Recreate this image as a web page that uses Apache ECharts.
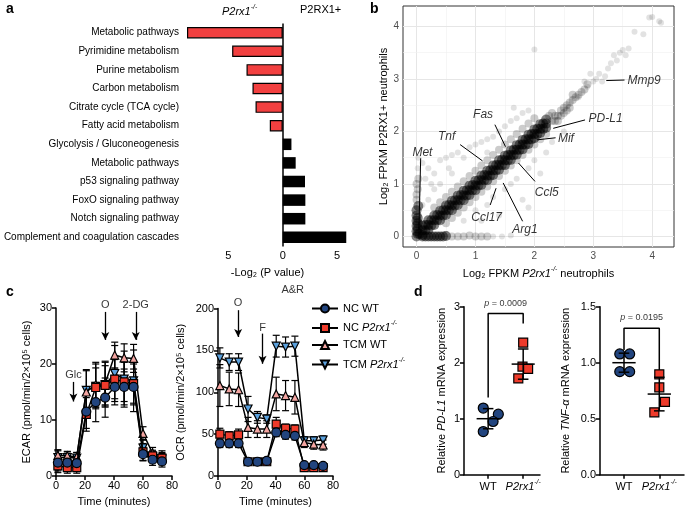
<!DOCTYPE html>
<html><head><meta charset="utf-8">
<script src="https://cdn.jsdelivr.net/npm/echarts@6/dist/echarts.min.js"></script>
<style>html,body{margin:0;padding:0;background:#fff}#c{width:685px;height:511px}</style>
</head><body><div id="c"></div>
<script>
// ---------- Panel a ----------
const pathwayNames = ['Metabolic pathways','Pyrimidine metabolism','Purine metabolism','Carbon metabolism','Citrate cycle (TCA cycle)','Fatty acid metabolism','Glycolysis / Gluconeogenesis','Metabolic pathways','p53 signaling pathway','FoxO signaling pathway','Notch signaling pathway','Complement and coagulation cascades'];
const pathwayLogP = [-8.8, -4.65, -3.33, -2.78, -2.5, -1.19, 0.8, 1.19, 2.05, 2.08, 2.08, 5.84];
const aTicks = [-5, 0, 5];

// ---------- Panel b ----------
const densePts = [
 [0,0],[0,0.1],[0,0.2],[0,0.3],[0,0.4],[0,0.5],[0.03,0.58],[0.1,0],[0.2,0],[0.3,0],[0.4,0],[0.5,0.01],[0.05,0.05],[0.02,0.05],[0.02,0.15],[0.02,0.25],[0.02,0.35],[0.15,0],[0.25,0],[0.35,0],[0.45,0],
 [0.1,0.03],[0.1,0.12],[0.1,0.21],[0.2,0.13],[0.2,0.22],[0.2,0.31],[0.3,0.22],[0.3,0.31],[0.3,0.4],
 [0.4,0.31],[0.4,0.4],[0.4,0.49],[0.5,0.41],[0.5,0.5],[0.5,0.59],[0.6,0.5],[0.6,0.59],[0.6,0.68],
 [0.7,0.6],[0.7,0.69],[0.7,0.78],[0.8,0.69],[0.8,0.78],[0.8,0.87],[0.9,0.79],[0.9,0.88],[0.9,0.97],
 [1.0,0.88],[1.0,0.97],[1.0,1.06],[1.1,0.98],[1.1,1.07],[1.1,1.16],[1.2,1.07],[1.2,1.16],[1.2,1.25],
 [1.3,1.17],[1.3,1.26],[1.3,1.35],[1.4,1.27],[1.4,1.36],[1.4,1.45],[1.5,1.36],[1.5,1.45],[1.5,1.54],
 [1.6,1.46],[1.6,1.55],[1.6,1.64],[1.7,1.56],[1.7,1.65],[1.7,1.74],[1.8,1.66],[1.8,1.75],[1.8,1.84],
 [1.9,1.76],[1.9,1.85],[1.9,1.94],[2.0,1.87],[2.0,1.95],[2.0,2.04],[2.1,1.97],[2.1,2.05],[2.1,2.14],
 [2.2,2.07],[2.2,2.15],[2.2,2.23],
 [0.15,0.12],[0.15,0.22],[0.25,0.21],[0.25,0.31],[0.35,0.31],[0.35,0.41],[0.45,0.4],[0.45,0.5],[0.55,0.5],[0.55,0.6],
 [0.65,0.59],[0.65,0.69],[0.75,0.69],[0.75,0.79],[0.85,0.78],[0.85,0.88],[0.95,0.88],[0.95,0.98],[1.05,0.97],[1.05,1.07],
 [1.15,1.07],[1.15,1.17],[1.25,1.16],[1.25,1.26],[1.35,1.26],[1.35,1.36],[1.45,1.36],[1.45,1.46],[1.55,1.45],[1.55,1.55],
 [1.65,1.55],[1.65,1.65],[1.75,1.65],[1.75,1.75],[1.85,1.75],[1.85,1.85],[1.95,1.85],[1.95,1.95],[2.05,1.95],[2.05,2.05],[2.15,2.05],[2.15,2.15]
];
const mediumPts = [
 [2.3,2.2],[2.35,2.3],[2.4,2.3],[2.45,2.4],[2.5,2.45],[2.55,2.5],[2.6,2.55],[2.65,2.6],[2.7,2.65],[2.3,2.35],[2.4,2.2],[2.5,2.35],[2.6,2.45],[2.75,2.7],[2.8,2.75],[2.25,2.3],[2.35,2.2],[2.45,2.3],[2.55,2.4],[2.65,2.7],[2.85,2.8],[2.9,2.9],
 [0.3,0.55],[0.5,0.75],[0.7,0.95],[0.9,1.15],[1.1,1.35],[1.3,1.55],[1.5,1.75],[1.7,1.95],[1.9,2.15],
 [0.4,0.65],[0.6,0.85],[0.8,1.05],[1.0,1.25],[1.2,1.45],[1.4,1.65],[1.6,1.85],[1.8,2.05],[2.0,2.25],
 [0.5,0.25],[0.7,0.45],[0.9,0.65],[1.1,0.85],[1.3,1.05],[1.5,1.25],[1.7,1.45],[1.9,1.65],[2.1,1.85],
 [0.6,0.35],[0.8,0.55],[1.0,0.75],[1.2,0.95],[1.4,1.15],[1.6,1.35],[1.8,1.55],[2.0,1.75],[2.2,1.95],
 [0,0.7],[0,0.8],[0.02,0.9],[0,1.0],[0.03,1.1],[0.6,0],[0.7,0],[0.8,0],[0.9,0.02],[1.0,0],[1.1,0],[1.2,0]
];
const sparsePts = [
 [2.0,3.56],[4.0,4.18],[3.95,4.17],[4.15,4.07],[4.12,4.1],[3.7,3.9],[3.85,3.85],[3.5,3.55],[3.6,3.58],[3.45,3.5],[3.3,3.3],[3.35,3.45],[3.25,3.2],[3.1,3.1],[3.0,2.95],[2.9,2.85],[3.05,3.0],[2.85,2.95],[3.2,3.05],[3.15,2.95],[2.95,3.1],[2.75,2.65],[3.4,3.35],[3.55,3.45],
 [0.1,1.4],[0.2,1.3],[0.3,1.2],[0.15,1.1],[0.4,1.45],[0.5,1.5],[0.6,1.55],[0.7,1.6],[0.55,1.3],[0.8,1.5],[0.9,1.7],[1.0,1.75],[1.1,1.8],[1.2,1.85],[1.3,1.9],[1.4,2.0],[1.5,2.1],[1.6,2.2],[1.7,2.25],[1.8,2.35],[1.9,2.4],[0.3,0.9],[0.4,1.0],[0.2,0.7],[0.1,0.6],[1.65,2.45],[0.25,1.0],[0.6,1.2],[1.2,1.6],
 [0.5,0.05],[0.8,0.3],[1.0,0.5],[1.2,0.6],[1.3,0.75],[1.5,0.9],[1.6,1.0],[1.7,1.1],[1.9,1.3],[2.0,1.45],[2.2,1.6],[1.9,0.55],[1.8,0.7],[2.3,1.8],[2.5,2.0],[1.4,0.4],[1.1,0.3],[2.1,1.2],[1.3,0],[1.45,0],[1.6,0.02],[0.02,1.3],[0.03,1.5]
];
const bGridMajor = [0, 1, 2, 3, 4];
const bGridMinor = [0.5, 1.5, 2.5, 3.5];
const geneNames = ['Mmp9','PD-L1','Mif','Fas','Tnf','Met','Ccl5','Ccl17','Arg1'];
const geneLabelX = [3.58, 2.92, 2.4, 1.13, 0.51, 0.1, 2.21, 1.19, 1.84];
const geneLabelY = [2.97, 2.24, 1.87, 2.32, 1.9, 1.59, 0.84, 0.35, 0.13];
const geneLineFrom = [[3.22,2.97],[2.32,2.06],[2.04,1.84],[1.33,2.13],[0.74,1.75],[0.07,1.49],[1.73,1.40],[1.25,0.60],[1.47,1.02]];
const geneLineTo = [[3.53,2.98],[2.86,2.22],[2.36,1.88],[1.51,1.71],[1.12,1.44],[0.04,0.13],[2.01,1.05],[1.35,0.92],[1.80,0.29]];

// ---------- Panel c ----------
const times = [1.3, 7.8, 14.3, 20.9, 27.4, 33.9, 40.5, 47.0, 53.5, 60.0, 66.6, 73.1];
const ecarNcWt = [2.4, 2.4, 2.3, 11.5, 13.2, 14.0, 15.9, 15.9, 15.9, 3.9, 2.9, 2.6];
const ecarNcKo = [1.8, 1.5, 1.5, 11.0, 15.8, 16.2, 17.3, 16.8, 16.5, 4.3, 3.6, 3.2];
const ecarTcmWt = [3.7, 3.6, 3.4, 15.0, 16.3, 16.5, 21.6, 21.1, 21.0, 7.6, 4.1, 3.5];
const ecarTcmKo = [3.3, 3.3, 3.2, 15.3, 16.0, 16.3, 18.3, 17.3, 17.0, 5.0, 3.4, 3.0];
const ecarNcWtErr = [1.5, 1.2, 1.2, 3.0, 3.5, 3.5, 3.2, 3.2, 3.2, 1.2, 1.0, 1.0];
const ecarNcKoErr = [1.2, 1.0, 1.0, 3.0, 3.5, 3.5, 3.5, 3.5, 3.5, 1.5, 1.0, 1.0];
const ecarTcmWtErr = [1.0, 0.8, 0.8, 4.0, 4.0, 4.0, 2.3, 2.5, 2.5, 1.2, 1.0, 1.0];
const ecarTcmKoErr = [1.2, 1.0, 1.0, 3.5, 4.0, 4.0, 5.0, 5.0, 5.5, 1.5, 1.0, 1.0];
const ocrNcWt = [39, 39, 39, 17, 17, 18, 52, 49, 48, 13, 13, 12];
const ocrNcKo = [50, 48, 49, 17, 17, 17, 62, 57, 56, 10, 10, 10];
const ocrTcmWt = [108, 104, 103, 58, 56, 56, 98, 96, 94, 40, 38, 37];
const ocrTcmKo = [141, 136, 136, 80, 70, 68, 155, 154, 155, 42, 42, 43];
const ocrNcWtErr = [5, 5, 5, 3, 3, 3, 5, 5, 5, 2, 2, 2];
const ocrNcKoErr = [7, 5, 7, 3, 3, 3, 8, 5, 5, 2, 2, 2];
const ocrTcmWtErr = [25, 20, 20, 12, 10, 10, 20, 18, 20, 6, 6, 6];
const ocrTcmKoErr = [12, 10, 10, 15, 7, 5, 13, 12, 12, 5, 5, 5];
const ecarArrowNames = ['Glc', 'O', '2-DG'];
const ecarArrowX = [12, 34, 55];
const ecarArrowTop = [16.8, 29.3, 29.3];
const ecarArrowBottom = [13.3, 24.3, 24.3];
const ecarArrowText = [18.0, 30.6, 30.6];
const ocrArrowNames = ['O', 'F', 'A&R'];
const ocrArrowX = [14, 31, 52];
const ocrArrowTop = [198, 170, 210];
const ocrArrowBottom = [166, 134, 181];
const ocrArrowText = [207, 177, 222];

// ---------- Panel d ----------
const pdl1WtX = [0.86, 1.29, 1.14, 0.86];
const pdl1WtY = [1.19, 1.08, 0.95, 0.77];
const pdl1KoX = [2.0, 1.98, 2.14, 1.86];
const pdl1KoY = [2.36, 1.93, 1.89, 1.72];
const tnfWtX = [0.88, 1.16, 0.88, 1.16];
const tnfWtY = [1.078, 1.078, 0.92, 0.92];
const tnfKoX = [2.0, 2.0, 2.16, 1.86];
const tnfKoY = [0.896, 0.78, 0.65, 0.557];
const pdl1Stats = [[1, 1.0, 0.18], [2, 1.975, 0.27]];
const tnfStats = [[1, 1.0, 0.085], [2, 0.72, 0.15]];
const pdl1Bracket = [[1, 1.38], [1, 2.88], [2, 2.88], [2, 2.70]];
const tnfBracket = [[1, 1.113], [1, 1.307], [2, 1.307], [2, 0.935]];
const pdl1PText = 'p = 0.0009';
const tnfPText = 'p = 0.0195';

// ---------- styles ----------
const FONT = '"Liberation Sans", Arial, sans-serif';
const RED_A = '#f24040';
const NAVY = '#22457f', RED = '#ee3b2b', PINK = '#f3a5a1', LBLUE = '#5aa0dc';
const rich = (fs) => ({
  n: {fontSize: fs, lineHeight: fs + 5, color: '#000'},
  i: {fontSize: fs, lineHeight: fs + 5, fontStyle: 'italic', color: '#000'},
  s: {fontSize: fs * 0.62, lineHeight: fs * 0.75, verticalAlign: 'top', fontStyle: 'italic', color: '#000'}
});
const KO = '{i|P2rx1}{s|-/-}';

const blackAxis = {lineStyle: {color: '#000', width: 1.5}};
const blackTick = {length: 4, lineStyle: {color: '#000', width: 1.5}};
const blackLabel = {color: '#000', fontSize: 11, margin: 4};

function errSeries(xi, yi, xs, ys, es, z) {
  return {type: 'custom', xAxisIndex: xi, yAxisIndex: yi, z, silent: true, clip: false,
    data: xs.map((x, k) => [x, ys[k] - es[k], ys[k] + es[k]]),
    encode: {x: 0, y: [1, 2]},
    renderItem(p, api) {
      const x = api.value(0);
      const lo = api.coord([x, api.value(1)]), hi = api.coord([x, api.value(2)]);
      const w = 3.5, st = {stroke: '#000', lineWidth: 1.2};
      return {type: 'group', children: [
        {type: 'line', shape: {x1: lo[0], y1: lo[1], x2: hi[0], y2: hi[1]}, style: st},
        {type: 'line', shape: {x1: lo[0] - w, y1: lo[1], x2: lo[0] + w, y2: lo[1]}, style: st},
        {type: 'line', shape: {x1: hi[0] - w, y1: hi[1], x2: hi[0] + w, y2: hi[1]}, style: st}]};
    }};
}
function lineSeries(name, xi, yi, xs, ys, sym, color, z, size, rot) {
  return {type: 'line', name, xAxisIndex: xi, yAxisIndex: yi, z,
    data: xs.map((x, k) => [x, ys[k]]), symbol: sym, symbolSize: size, symbolRotate: rot || 0,
    lineStyle: {color: '#000', width: 1.5}, itemStyle: {color, borderColor: '#000', borderWidth: 1.2},
    showSymbol: true, animation: false};
}
function arrowSeries(xi, yi, names, xs, tops, bottoms, texts) {
  return {type: 'scatter', xAxisIndex: xi, yAxisIndex: yi, symbolSize: 0, clip: false, silent: true, z: 10,
    data: names.map((n, k) => ({name: n, value: [xs[k], texts[k]]})),
    label: {show: true, position: 'inside', formatter: '{b}', color: '#000', fontSize: 11},
    markLine: {silent: true, symbol: ['none', 'arrow'], symbolSize: [6, 8], animation: false,
      lineStyle: {color: '#000', width: 1.3, type: 'solid'}, label: {show: false},
      data: xs.map((x, k) => [{coord: [x, tops[k]]}, {coord: [x, bottoms[k]]}])}};
}
function statSeries(xi, yi, stats) {
  return {type: 'custom', xAxisIndex: xi, yAxisIndex: yi, z: 5, silent: true, clip: false,
    data: stats, encode: {x: 0, y: 1},
    renderItem(p, api) {
      const x = api.value(0), m = api.value(1), s = api.value(2);
      const c = api.coord([x, m]), hi = api.coord([x, m + s]), lo = api.coord([x, m - s]);
      const mw = api.coord([x + 0.33, m])[0] - c[0];
      const cw = api.coord([x + 0.15, m])[0] - c[0];
      const st = {stroke: '#000', lineWidth: 1.5};
      return {type: 'group', children: [
        {type: 'line', shape: {x1: c[0] - mw, y1: c[1], x2: c[0] + mw, y2: c[1]}, style: st},
        {type: 'line', shape: {x1: c[0], y1: lo[1], x2: c[0], y2: hi[1]}, style: st},
        {type: 'line', shape: {x1: c[0] - cw, y1: hi[1], x2: c[0] + cw, y2: hi[1]}, style: st},
        {type: 'line', shape: {x1: c[0] - cw, y1: lo[1], x2: c[0] + cw, y2: lo[1]}, style: st}]};
    }};
}
function dotSeries(xi, yi, xs, ys, sym, color, size) {
  return {type: 'scatter', xAxisIndex: xi, yAxisIndex: yi, z: 4, clip: false,
    data: xs.map((x, k) => [x, ys[k]]), symbol: sym, symbolSize: size,
    itemStyle: {color, borderColor: '#000', borderWidth: 1.2, opacity: 1}};
}

const chart = echarts.init(document.getElementById('c'), null, {renderer: 'canvas'});

const legendNames = ['NC WT', 'NC P2rx1', 'TCM WT', 'TCM P2rx1'];

const option = {
  animation: false,
  backgroundColor: '#fff',
  textStyle: {fontFamily: FONT},
  graphic: [
    {type: 'text', left: 6, top: 2, style: {text: 'a', font: 'bold 14px ' + FONT, fill: '#000'}},
    {type: 'text', left: 370, top: 2, style: {text: 'b', font: 'bold 14px ' + FONT, fill: '#000'}},
    {type: 'text', left: 6, top: 285, style: {text: 'c', font: 'bold 14px ' + FONT, fill: '#000'}},
    {type: 'text', left: 414, top: 285, style: {text: 'd', font: 'bold 14px ' + FONT, fill: '#000'}},
    {type: 'text', left: 222, top: 4, style: {text: KO, rich: rich(11), fill: '#000'}},
    {type: 'text', left: 300, top: 4, style: {text: 'P2RX1+', font: '11px ' + FONT, fill: '#000'}}
  ],
  legend: {
    data: legendNames, orient: 'vertical', left: 306, top: 298, itemGap: 6,
    itemWidth: 26, itemHeight: 10,
    formatter: (n) => n === 'NC P2rx1' ? '{n|NC }' + KO : n === 'TCM P2rx1' ? '{n|TCM }' + KO : '{n|' + n + '}',
    textStyle: {fontSize: 11, rich: rich(11)}
  },
  grid: [
    {left: 187, width: 161, top: 23.4, height: 223.2},
    {left: 403, width: 271, top: 6, height: 241, show: true, borderColor: '#333', borderWidth: 1, backgroundColor: '#fff'},
    {left: 56, width: 116, top: 308, height: 168},
    {left: 218, width: 115, top: 308.5, height: 167.5},
    {left: 464, width: 76, top: 306.7, height: 168},
    {left: 600, width: 84, top: 306.7, height: 168}
  ],
  xAxis: [
    {gridIndex: 0, type: 'value', min: -8.8, max: 6, splitLine: {show: false},
      axisLine: blackAxis, axisTick: Object.assign({customValues: aTicks}, blackTick),
      axisLabel: Object.assign({customValues: aTicks, formatter: v => Math.abs(v)}, blackLabel),
      name: '-Log₂ (P value)', nameLocation: 'middle', nameGap: 21, nameTextStyle: {fontSize: 11, color: '#000'}},
    {gridIndex: 1, type: 'value', min: -0.23, max: 4.37, splitLine: {show: false},
      axisLine: {show: false}, axisTick: {customValues: bGridMajor, length: 3, lineStyle: {color: '#333'}},
      axisLabel: {customValues: bGridMajor, color: '#4d4d4d', fontSize: 10, margin: 4},
      name: '{n|Log₂ FPKM }' + KO + '{n| neutrophils}', nameLocation: 'middle', nameGap: 19,
      nameTextStyle: {rich: rich(11)}},
    {gridIndex: 2, type: 'value', min: 0, max: 80, interval: 20, splitLine: {show: false},
      axisLine: blackAxis, axisTick: blackTick, axisLabel: blackLabel,
      name: 'Time (minutes)', nameLocation: 'middle', nameGap: 20, nameTextStyle: {fontSize: 11, color: '#000'}},
    {gridIndex: 3, type: 'value', min: 0, max: 80, interval: 20, splitLine: {show: false},
      axisLine: blackAxis, axisTick: blackTick, axisLabel: blackLabel,
      name: 'Time (minutes)', nameLocation: 'middle', nameGap: 20, nameTextStyle: {fontSize: 11, color: '#000'}},
    {gridIndex: 4, type: 'value', min: 0.31, max: 2.48, splitLine: {show: false},
      axisLine: blackAxis, axisTick: Object.assign({customValues: [1, 2]}, blackTick),
      axisLabel: Object.assign({customValues: [1, 2], formatter: v => v === 1 ? '{n|WT}' : KO, rich: rich(11)}, blackLabel)},
    {gridIndex: 5, type: 'value', min: 0.32, max: 2.7, splitLine: {show: false},
      axisLine: blackAxis, axisTick: Object.assign({customValues: [1, 2]}, blackTick),
      axisLabel: Object.assign({customValues: [1, 2], formatter: v => v === 1 ? '{n|WT}' : KO, rich: rich(11)}, blackLabel)}
  ],
  yAxis: [
    {gridIndex: 0, type: 'category', inverse: true, data: pathwayNames.map((_, k) => String(k)),
      axisLine: {show: false}, axisTick: {alignWithLabel: true, length: 4, lineStyle: {color: '#000', width: 1}},
      axisLabel: {formatter: v => pathwayNames[+v], color: '#000', fontSize: 10, margin: 8}},
    {gridIndex: 1, type: 'value', min: -0.2, max: 4.39, splitLine: {show: false},
      axisLine: {show: false}, axisTick: {customValues: bGridMajor, length: 3, lineStyle: {color: '#333'}},
      axisLabel: {customValues: bGridMajor, color: '#4d4d4d', fontSize: 10, margin: 4},
      name: '{n|Log₂ FPKM P2RX1+ neutrophils}', nameLocation: 'middle', nameGap: 11,
      nameTextStyle: {rich: rich(11)}},
    {gridIndex: 2, type: 'value', min: 0, max: 30, interval: 10, splitLine: {show: false},
      axisLine: blackAxis, axisTick: blackTick, axisLabel: blackLabel,
      name: 'ECAR (pmol/min/2×10⁵ cells)', nameLocation: 'middle', nameGap: 24, nameTextStyle: {fontSize: 11, color: '#000'}},
    {gridIndex: 3, type: 'value', min: 0, max: 200, interval: 50, splitLine: {show: false},
      axisLine: blackAxis, axisTick: blackTick, axisLabel: blackLabel,
      name: 'OCR (pmol/min/2×10⁵ cells)', nameLocation: 'middle', nameGap: 32, nameTextStyle: {fontSize: 11, color: '#000'}},
    {gridIndex: 4, type: 'value', min: 0, max: 3, interval: 1, splitLine: {show: false},
      axisLine: blackAxis, axisTick: blackTick, axisLabel: blackLabel,
      name: '{n|Relative }{i|PD-L1}{n| mRNA expression}', nameLocation: 'middle', nameGap: 14, nameTextStyle: {rich: rich(11)}},
    {gridIndex: 5, type: 'value', min: 0, max: 1.5, interval: 0.5, splitLine: {show: false},
      axisLine: blackAxis, axisTick: blackTick, axisLabel: Object.assign({formatter: v => v.toFixed(1)}, blackLabel),
      name: '{n|Relative }{i|TNF-α}{n| mRNA expression}', nameLocation: 'middle', nameGap: 26, nameTextStyle: {rich: rich(11)}}
  ],
  series: [
    // panel a
    {type: 'bar', xAxisIndex: 0, yAxisIndex: 0, barWidth: '62%',
      data: pathwayLogP.map(v => ({value: v, itemStyle: v < 0 ? {color: RED_A, borderColor: '#000', borderWidth: 1.2} : {color: '#000'}})),
      markLine: {silent: true, symbol: 'none', label: {show: false}, lineStyle: {color: '#000', width: 1.5, type: 'solid'},
        data: [{xAxis: 0}]}},
    // panel b gridlines
    {type: 'line', xAxisIndex: 1, yAxisIndex: 1, data: [[-1, -1]], symbol: 'none', z: 1, silent: true,
      markLine: {silent: true, symbol: 'none', label: {show: false}, animation: false, z: 1,
        data: bGridMajor.map(v => ({xAxis: v, lineStyle: {color: '#e6e6e6', width: 1, type: 'solid'}}))
          .concat(bGridMinor.map(v => ({xAxis: v, lineStyle: {color: '#f0f0f0', width: 0.6, type: 'solid'}})))
          .concat(bGridMajor.map(v => ({yAxis: v, lineStyle: {color: '#e6e6e6', width: 1, type: 'solid'}})))
          .concat(bGridMinor.map(v => ({yAxis: v, lineStyle: {color: '#f0f0f0', width: 0.6, type: 'solid'}})))}},
    {type: 'scatter', xAxisIndex: 1, yAxisIndex: 1, z: 2, data: sparsePts, symbolSize: 6, itemStyle: {color: 'rgba(0,0,0,0.14)'}},
    {type: 'scatter', xAxisIndex: 1, yAxisIndex: 1, z: 2, data: mediumPts, symbolSize: 8, itemStyle: {color: 'rgba(0,0,0,0.25)'}},
    {type: 'scatter', xAxisIndex: 1, yAxisIndex: 1, z: 2, data: densePts, symbolSize: 10, itemStyle: {color: 'rgba(0,0,0,0.6)'}},
    {type: 'scatter', xAxisIndex: 1, yAxisIndex: 1, z: 5, symbolSize: 0, clip: false, silent: true,
      data: geneNames.map((g, k) => ({name: g, value: [geneLabelX[k], geneLabelY[k]],
        label: {align: (g === 'Mmp9' || g === 'PD-L1' || g === 'Mif') ? 'left' : 'center'}})),
      label: {show: true, position: 'inside', formatter: '{b}', fontStyle: 'italic', fontSize: 12, color: '#000'},
      markLine: {silent: true, symbol: 'none', label: {show: false}, animation: false, z: 6,
        lineStyle: {color: '#000', width: 1, type: 'solid'},
        data: geneLineFrom.map((f, k) => [{coord: f}, {coord: geneLineTo[k]}])}},
    // panel c ECAR
    errSeries(2, 2, times, ecarTcmKo, ecarTcmKoErr, 2),
    errSeries(2, 2, times, ecarTcmWt, ecarTcmWtErr, 2),
    errSeries(2, 2, times, ecarNcKo, ecarNcKoErr, 2),
    errSeries(2, 2, times, ecarNcWt, ecarNcWtErr, 2),
    lineSeries('TCM P2rx1', 2, 2, times, ecarTcmKo, 'triangle', LBLUE, 3, 8, 180),
    lineSeries('TCM WT', 2, 2, times, ecarTcmWt, 'triangle', PINK, 4, 8),
    lineSeries('NC P2rx1', 2, 2, times, ecarNcKo, 'rect', RED, 5, 8),
    lineSeries('NC WT', 2, 2, times, ecarNcWt, 'circle', NAVY, 6, 9),
    arrowSeries(2, 2, ecarArrowNames, ecarArrowX, ecarArrowTop, ecarArrowBottom, ecarArrowText),
    // panel c OCR
    errSeries(3, 3, times, ocrTcmKo, ocrTcmKoErr, 2),
    errSeries(3, 3, times, ocrTcmWt, ocrTcmWtErr, 2),
    errSeries(3, 3, times, ocrNcKo, ocrNcKoErr, 2),
    errSeries(3, 3, times, ocrNcWt, ocrNcWtErr, 2),
    lineSeries('TCM P2rx1', 3, 3, times, ocrTcmKo, 'triangle', LBLUE, 3, 8, 180),
    lineSeries('TCM WT', 3, 3, times, ocrTcmWt, 'triangle', PINK, 4, 8),
    lineSeries('NC P2rx1', 3, 3, times, ocrNcKo, 'rect', RED, 5, 8),
    lineSeries('NC WT', 3, 3, times, ocrNcWt, 'circle', NAVY, 6, 9),
    arrowSeries(3, 3, ocrArrowNames, ocrArrowX, ocrArrowTop, ocrArrowBottom, ocrArrowText),
    // panel d PD-L1
    statSeries(4, 4, pdl1Stats),
    dotSeries(4, 4, pdl1WtX, pdl1WtY, 'circle', NAVY, 10),
    dotSeries(4, 4, pdl1KoX, pdl1KoY, 'rect', RED, 9),
    {type: 'line', xAxisIndex: 4, yAxisIndex: 4, data: pdl1Bracket, symbol: 'none', clip: false,
      lineStyle: {color: '#000', width: 1.5}},
    {type: 'scatter', xAxisIndex: 4, yAxisIndex: 4, symbolSize: 0, clip: false, silent: true,
      data: [{name: pdl1PText, value: [1.5, 3.06]}],
      label: {show: true, position: 'inside', formatter: () => '{i|p}{n| = 0.0009}', rich: rich(9)}},
    // panel d TNF
    statSeries(5, 5, tnfStats),
    dotSeries(5, 5, tnfWtX, tnfWtY, 'circle', NAVY, 10),
    dotSeries(5, 5, tnfKoX, tnfKoY, 'rect', RED, 9),
    {type: 'line', xAxisIndex: 5, yAxisIndex: 5, data: tnfBracket, symbol: 'none', clip: false,
      lineStyle: {color: '#000', width: 1.5}},
    {type: 'scatter', xAxisIndex: 5, yAxisIndex: 5, symbolSize: 0, clip: false, silent: true,
      data: [{name: tnfPText, value: [1.5, 1.40]}],
      label: {show: true, position: 'inside', formatter: () => '{i|p}{n| = 0.0195}', rich: rich(9)}}
  ]
};
chart.setOption(option);
</script>
</body></html>
